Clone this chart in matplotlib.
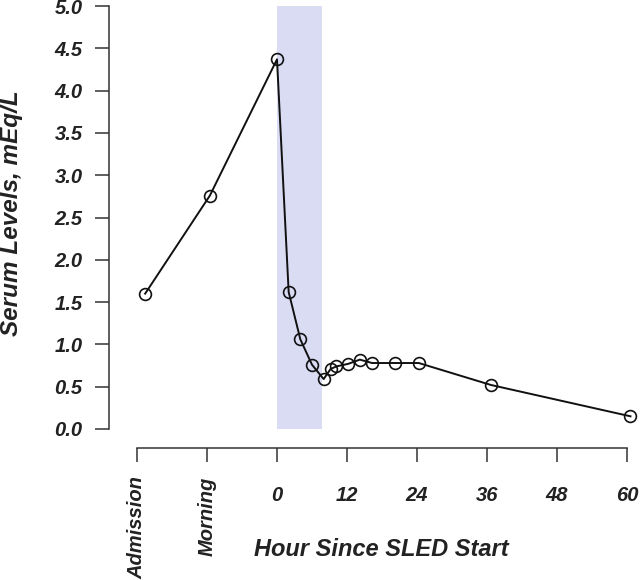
import numpy as np
import matplotlib
matplotlib.use('Agg')
import matplotlib.pyplot as plt

plt.rcParams['font.family'] = ['Liberation Sans', 'DejaVu Sans']

# hours since SLED start (admission / morning placed before 0)
hours = [-22.6, -11.5, 0, 2, 4, 6, 8, 9.2, 10.2, 12.2, 14.2, 16.3, 20.2, 24.3, 36.7, 60.6]
serum = [1.60, 2.76, 4.37, 1.62, 1.06, 0.76, 0.59, 0.71, 0.74, 0.77, 0.82, 0.78, 0.78, 0.78, 0.52, 0.15]

sled_start, sled_end = 0, 7.8

tick_pos = [-24, -12, 0, 12, 24, 36, 48, 60]
tick_labels = ['Admission', 'Morning', '0', '12', '24', '36', '48', '60']
y_ticks = np.arange(0, 5.01, 0.5)

ymin, ymax = -0.2246, 5.024

fig = plt.figure(figsize=(6.4, 5.8), dpi=100)
ax = fig.add_axes([0.1703, 0.2276, 0.8297, 0.7655])

# shaded SLED period, limited to the 0..5 range
ax.axvspan(sled_start, sled_end, ymin=(0 - ymin) / (ymax - ymin),
           ymax=(5.0 - ymin) / (ymax - ymin), color='#dadcf4', lw=0, zorder=0)

ax.plot(hours, serum, color='#111111', lw=1.4, marker='o', ms=8.5,
        mfc='none', mec='#111111', mew=1.2, clip_on=False, zorder=3)

ax.set_xlim(-28.8, 62.23)
ax.set_ylim(ymin, ymax)

for s in ['top', 'right']:
    ax.spines[s].set_visible(False)
ax.spines['left'].set_bounds(0, 5)
ax.spines['bottom'].set_bounds(-24, 60)
for s in ['left', 'bottom']:
    ax.spines[s].set_linewidth(1.1)
    ax.spines[s].set_color('#333333')

ax.set_yticks(y_ticks)
ax.set_yticklabels(['%.1f' % v for v in y_ticks])
ax.set_xticks(tick_pos)
ax.set_xticklabels(tick_labels)

ax.tick_params(axis='both', length=10, width=1.1, color='#333333',
               labelsize=14.5, labelcolor='#222222')
ax.tick_params(axis='y', pad=9)
ax.tick_params(axis='x', pad=10.5)
for lab in ax.get_xticklabels() + ax.get_yticklabels():
    lab.set_fontweight('bold')
    lab.set_fontstyle('italic')
for lab in ax.get_xticklabels()[:2]:
    lab.set_rotation(90)
for tick in ax.xaxis.get_major_ticks()[2:]:
    tick.set_pad(17.5)

ax.set_ylabel('Serum Levels, mEq/L', fontsize=17.5, fontweight='bold',
              fontstyle='italic', color='#222222', va='center')
ax.yaxis.set_label_coords(-0.184, 0.53)
ax.set_xlabel('Hour Since SLED Start', fontsize=17, fontweight='bold',
              fontstyle='italic', color='#222222', va='center')
ax.xaxis.set_label_coords(0.512, -0.229)

fig.savefig('out.png', dpi=100)
